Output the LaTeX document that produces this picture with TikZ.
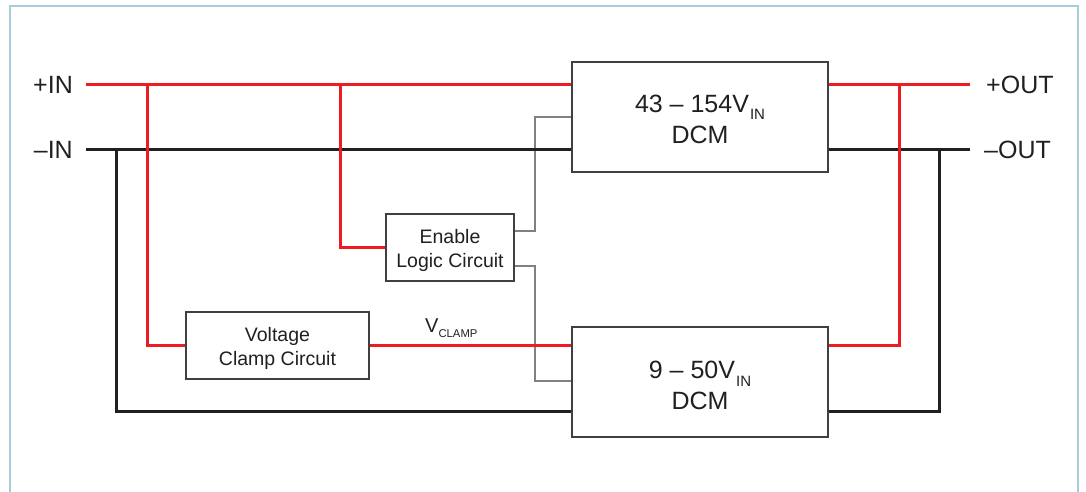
\documentclass[tikz,border=0pt]{standalone}
\usepackage{fontspec}
\setmainfont{Liberation Sans}
\usetikzlibrary{backgrounds}
\definecolor{wred}{HTML}{ED1C24}
\definecolor{wblk}{HTML}{231F20}
\definecolor{wgray}{HTML}{808080}
\definecolor{boxc}{HTML}{404040}
\definecolor{framec}{HTML}{A9CDD8}
\definecolor{txtc}{HTML}{231F20}
\begin{document}
\begin{tikzpicture}[x=1pt,y=-1pt,
  redw/.style={draw=wred,line width=3pt},
  blkw/.style={draw=wblk,line width=3pt},
  sigw/.style={draw=wgray,line width=1.3pt},
  blockbox/.style={draw=boxc,line width=1.2pt,fill=white,inner sep=0pt,align=center,text=txtc},
  bigtxt/.style={font=\fontsize{25}{31}\selectfont,text=txtc},
  smalltxt/.style={font=\fontsize{19.5}{24}\selectfont},
  lbl/.style={inner sep=0pt,text=txtc}]
\useasboundingbox (0,0) rectangle (1086,491);
\draw[framec,line width=1.3pt] (10,6) rectangle (1078,510);

% blocks
\node[blockbox,bigtxt,minimum width=256pt,minimum height=110pt] (dcm1) at (700,117)
  {\rule{0pt}{22pt}43 -- 154V\kern1pt\raisebox{-7pt}{\fontsize{15}{15}\selectfont IN}\\DCM};
\node[blockbox,bigtxt,minimum width=256pt,minimum height=110pt] (dcm2) at (700,382)
  {\rule{0pt}{25pt}9 -- 50V\kern1pt\raisebox{-8pt}{\fontsize{15}{15}\selectfont IN}\\DCM};
\node[blockbox,smalltxt,minimum width=128pt,minimum height=67pt] (en) at (450,247.5)
  {\rule{0pt}{20pt}Enable\\Logic Circuit};
\node[blockbox,smalltxt,minimum width=183pt,minimum height=67pt] (clamp) at (277.5,345.5)
  {\rule{0pt}{20pt}Voltage\\Clamp Circuit};

% terminal labels
\node[lbl,bigtxt,anchor=base east] (lpin) at (73,93) {+IN};
\node[lbl,bigtxt,anchor=base east] (lnin) at (73,158) {--IN};
\node[lbl,bigtxt,anchor=base west] (lpout) at (986,93) {+OUT};
\node[lbl,bigtxt,anchor=base west] (lnout) at (984,158) {--OUT};
\node[lbl,anchor=base west,font=\fontsize{20}{20}\selectfont] (lvc) at (425,332)
  {V\raisebox{-5pt}{\fontsize{11.3}{11.3}\selectfont CLAMP}};

% wire coordinates
\coordinate (pin) at (86,84);
\coordinate (nin) at (86,149);
\coordinate (j1) at (147,84);
\coordinate (j2) at (340,84);
\coordinate (b1) at (116,149);
\coordinate (pout) at (970,84);
\coordinate (nout) at (970,149);
\coordinate (j3) at (899,84);
\coordinate (b3) at (939,149);
\coordinate (g1) at (535,231);
\coordinate (g2) at (535,266);
\coordinate (rowEn1) at (0,117);
\coordinate (rowEn2) at (0,381);
\coordinate (rowGnd) at (0,411);
\coordinate (rowOp) at (0,345);

\begin{scope}[on background layer]
  % enable signals
  \draw[sigw] (en.east |- g1) -- (g1) |- (dcm1.west |- rowEn1);
  \draw[sigw] (en.east |- g2) -- (g2) |- (dcm2.west |- rowEn2);
  % input rails
  \draw[redw] (pin) -- (pin -| dcm1.west);
  \draw[blkw] (nin) -- (nin -| dcm1.west);
  \draw[redw] (j1) |- (clamp.west);
  \draw[redw] (j2) |- (en.west);
  \draw[blkw] (b1) |- (dcm2.west |- rowGnd);
  \draw[redw] (clamp.east) -- (dcm2.west |- clamp.east);
  % output rails
  \draw[redw] (dcm1.east |- pout) -- (pout);
  \draw[blkw] (dcm1.east |- nout) -- (nout);
  \draw[redw] (j3) |- (dcm2.east |- rowOp);
  \draw[blkw] (b3) |- (dcm2.east |- rowGnd);
\end{scope}
\end{tikzpicture}
\end{document}
